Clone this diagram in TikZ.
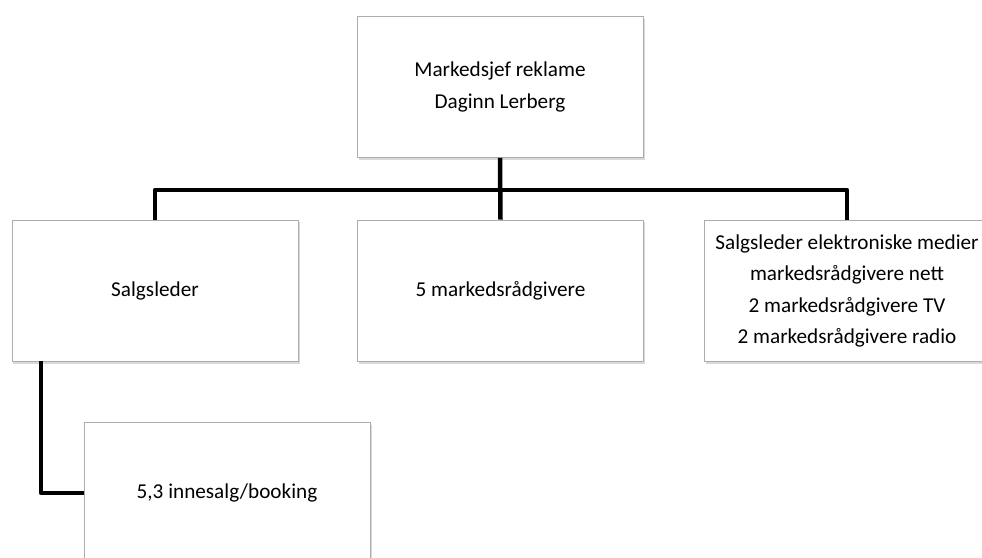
\documentclass[tikz,border=0pt]{standalone}
\usepackage{fontspec}
\setmainfont{Carlito}
\usetikzlibrary{shadows}
\begin{document}
\begin{tikzpicture}[x=1bp,y=-1bp,
  orgbox/.style={draw=gray!65, line width=0.8bp, fill=white, minimum width=286bp, minimum height=141bp,
    inner sep=0pt, align=center, font=\fontsize{21.2bp}{31.5bp}\selectfont,
    drop shadow={opacity=0.3, shadow xshift=1.5bp, shadow yshift=-2.5bp}},
  conn/.style={line width=4.5bp, black, line join=round}]
\useasboundingbox (0,0) rectangle (982,558);
\node[orgbox] (top) at (500,87) {Markedsjef reklame\\Daginn Lerberg};
\node[orgbox] (left) at (155,290.5) {Salgsleder};
\node[orgbox] (mid) at (500.5,290.5) {5 markedsrådgivere};
\node[orgbox] (right) at (847,291) {Salgsleder elektroniske medier\\markedsrådgivere nett\\2 markedsrådgivere TV\\2 markedsrådgivere radio};
\node[orgbox] (bottom) at (227,493) {5,3 innesalg/booking};
\coordinate (bary) at (0,190);
\coordinate (drop) at (41,0);
\draw[conn] (left.north) -- (left.north |- bary) -- (right.north |- bary) -- (right.north);
\draw[conn] (top.south) -- (mid.north);
\draw[conn] (drop |- left.south) -- (drop |- bottom.west) -- (bottom.west);
\end{tikzpicture}
\end{document}
